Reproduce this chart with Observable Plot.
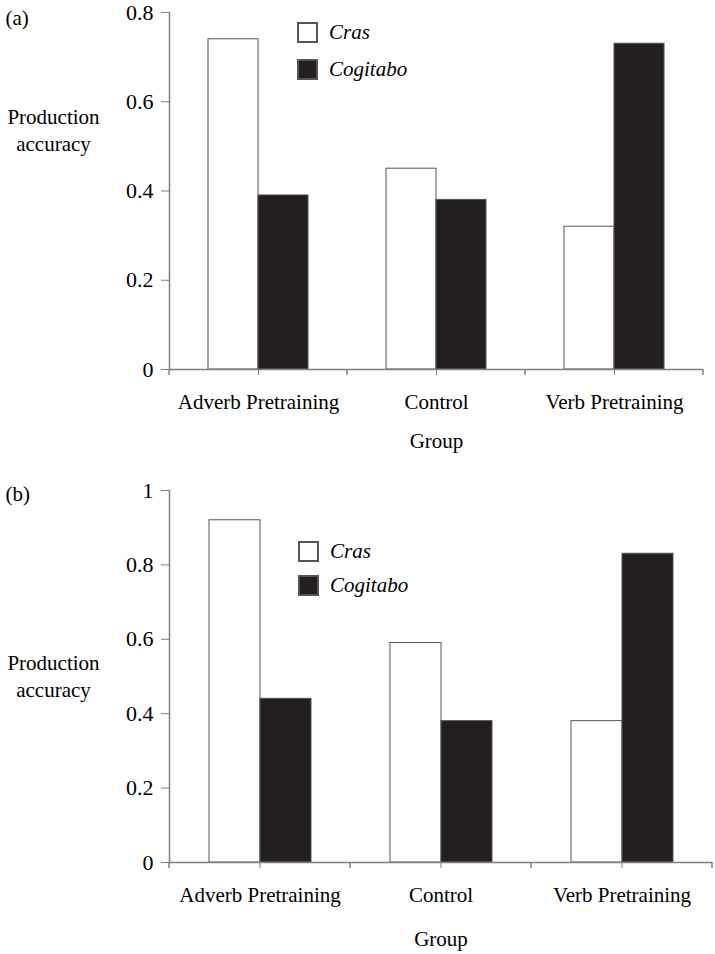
<!DOCTYPE html>
<html><head><meta charset="utf-8">
<script src="https://cdn.jsdelivr.net/npm/d3@7"></script>
<script src="https://cdn.jsdelivr.net/npm/@observablehq/plot@0.6"></script>
<style>
body{margin:0;background:#fff;}
#root{position:relative;width:715px;height:954px;overflow:hidden;}
.panel{position:absolute;left:0;width:715px;}
.legendbox{position:absolute;}
.lg-swatch{margin:0 !important;}
.lg-swatch svg{margin-right:12px !important;overflow:visible;}
.lg-swatch rect{stroke:#555;stroke-width:2;}
.lg-swatch-label{font-style:italic;overflow:visible !important;line-height:24px;}
</style></head><body><div id="root"></div>
<script>
const groups = ["Adverb Pretraining", "Control", "Verb Pretraining"];
const series = ["Cras", "Cogitabo"];
const panelA_cras = [0.74, 0.45, 0.32];
const panelA_cogitabo = [0.39, 0.38, 0.73];
const panelB_cras = [0.92, 0.59, 0.38];
const panelB_cogitabo = [0.44, 0.38, 0.83];
const yTicksA = [0, 0.2, 0.4, 0.6, 0.8];
const yTicksB = [0, 0.2, 0.4, 0.6, 0.8, 1];
const panelLabels = ["(a)", "(b)"];
const yLabel = "Production\naccuracy";
const xLabel = "Group";

const FONT = "'Liberation Serif', 'Times New Roman', serif";
const AXIS = "#808080";

function rows(cras, cog) {
  return groups.flatMap((g, i) => [
    {group: g, series: series[0], value: cras[i]},
    {group: g, series: series[1], value: cog[i]}
  ]);
}

function panel(root, cfg) {
  const div = document.createElement("div");
  div.className = "panel";
  div.style.top = cfg.top + "px";
  div.style.height = cfg.height + "px";
  root.appendChild(div);
  const data = rows(cfg.cras, cfg.cog);
  const yMax = cfg.ticks[cfg.ticks.length - 1];
  const plot = Plot.plot({
    width: 715,
    height: cfg.height,
    marginLeft: 168,
    marginRight: cfg.marginRight,
    marginTop: cfg.marginTop,
    marginBottom: cfg.marginBottom,
    style: {fontFamily: FONT, fontSize: "21px", color: "#000", background: "#fff", overflow: "visible"},
    fx: {domain: groups, padding: 0, label: null},
    x: {domain: series, paddingInner: 0, paddingOuter: 0.75, axis: null},
    y: {domain: [0, yMax], label: null},
    color: {domain: series, range: ["#ffffff", "#231f20"]},
    marks: [
      Plot.barY(data, {fx: "group", x: "series", y: "value", fill: "series", stroke: "#555", strokeWidth: 1}),
      Plot.ruleY([0], {stroke: AXIS, strokeWidth: 1.5}),
      Plot.frame({anchor: "left", stroke: AXIS, strokeWidth: 1.5, facet: "super"}),
      Plot.axisY({ticks: cfg.ticks, tickFormat: d => String(d), tickSize: 8, tickPadding: 8, fontSize: 22, fontFamily: FONT, stroke: AXIS, fill: "#000", label: null}),
      Plot.axisFx({anchor: "bottom", tickSize: 6, tickPadding: 19, fontSize: 21, fontFamily: FONT, stroke: AXIS, fill: "#000", label: null}),
      Plot.text([cfg.label], {frameAnchor: "top-left", dx: -164, dy: cfg.labelDy, textAnchor: "start", lineAnchor: "middle", fontSize: 21, fontFamily: FONT, facet: "super"}),
      Plot.text([yLabel], {frameAnchor: "top-left", dx: -116, dy: cfg.yLabelDy, textAnchor: "middle", lineAnchor: "middle", lineHeight: 1.28, fontSize: 21, fontFamily: FONT, facet: "super"}),
      Plot.text([xLabel], {frameAnchor: "bottom", dy: cfg.groupDy, textAnchor: "middle", lineAnchor: "middle", fontSize: 21, fontFamily: FONT, facet: "super"})
    ]
  });
  div.appendChild(plot);

  // category boundary ticks, placed with the plot's own fx and y scales
  const fx = plot.scale("fx");
  const y = plot.scale("y");
  const y0 = y.apply(0);
  const edges = groups.map(g => fx.apply(g)).concat([fx.apply(groups[groups.length - 1]) + fx.bandwidth]);
  d3.select(plot).append("g")
    .attr("stroke", AXIS).attr("stroke-width", 1.5)
    .selectAll("line").data(edges).join("line")
    .attr("x1", d => d).attr("x2", d => d)
    .attr("y1", y0).attr("y2", y0 + 6);

  const lg = plot.legend("color", {className: "lg", columns: 1, swatchSize: 19,
    style: {fontFamily: FONT, fontSize: "21px", color: "#000", margin: 0}});
  lg.querySelectorAll(".lg-swatch").forEach(el => {
    el.style.setProperty("padding-bottom", cfg.legendGap + "px", "important");
  });
  const box = document.createElement("div");
  box.className = "legendbox";
  box.style.left = cfg.legendLeft + "px";
  box.style.top = cfg.legendTop + "px";
  box.appendChild(lg);
  div.appendChild(box);
}

const root = document.getElementById("root");
panel(root, {top: 0, height: 480, marginTop: 12, marginBottom: 111, marginRight: 12,
  cras: panelA_cras, cog: panelA_cogitabo, ticks: yTicksA, label: panelLabels[0],
  labelDy: 6, yLabelDy: 116, groupDy: 72, legendLeft: 298, legendTop: 20, legendGap: 13});
panel(root, {top: 480, height: 474, marginTop: 10, marginBottom: 92, marginRight: 2,
  cras: panelB_cras, cog: panelB_cogitabo, ticks: yTicksB, label: panelLabels[1],
  labelDy: 4, yLabelDy: 184, groupDy: 77, legendLeft: 299, legendTop: 59, legendGap: 10});
</script></body></html>
